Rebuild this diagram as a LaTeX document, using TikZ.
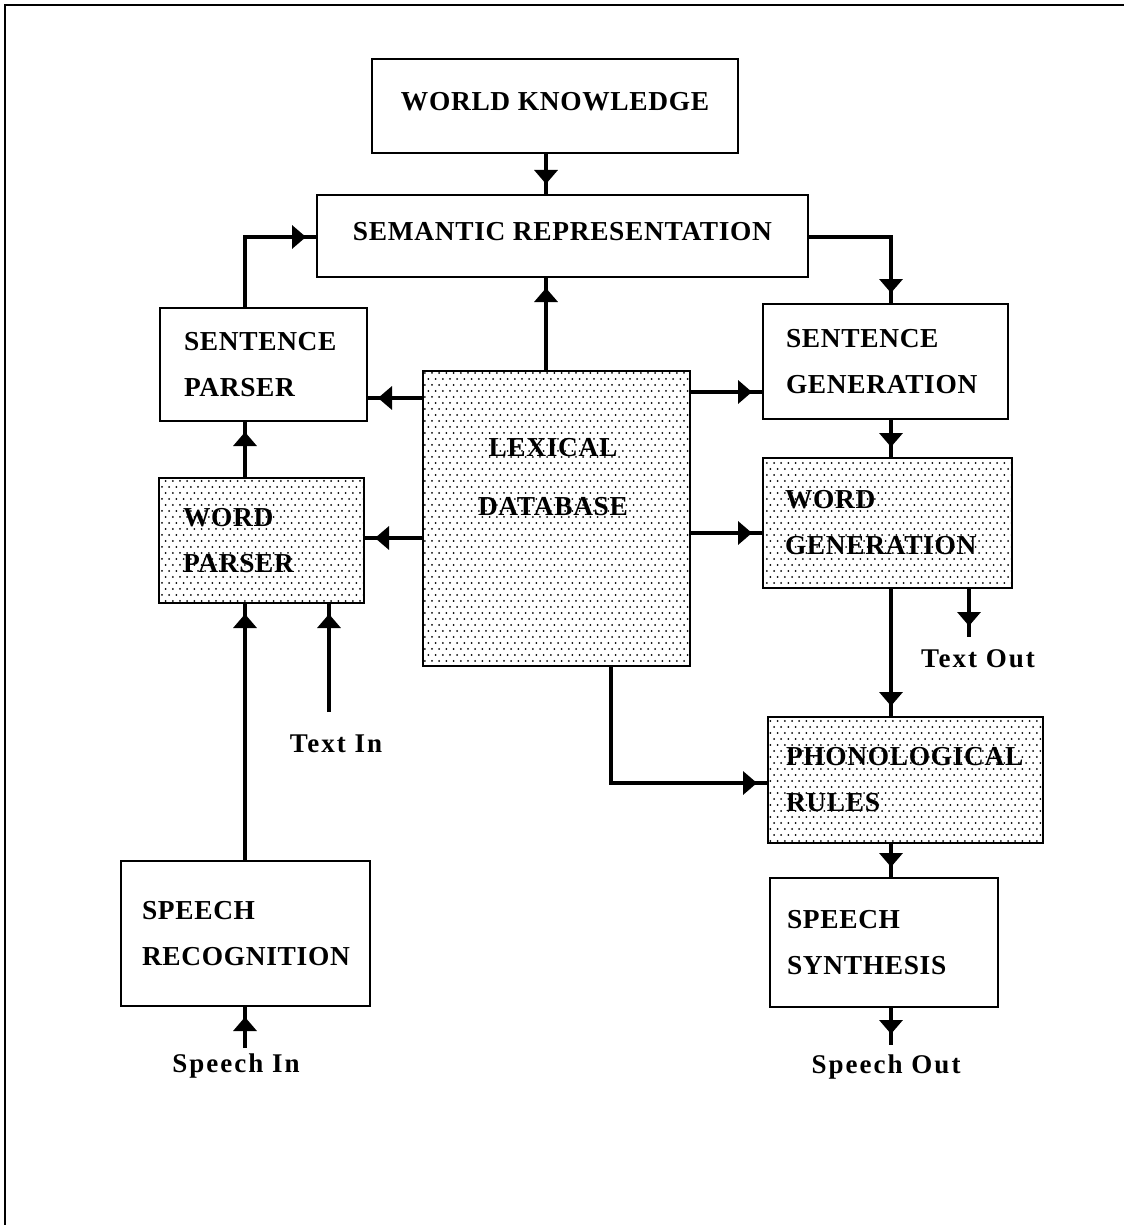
\documentclass[tikz,border=0pt]{standalone}
\usepackage{fontspec}
\setmainfont{Liberation Serif}
\newfontfamily\capsfont[LetterSpace=2.5]{Liberation Serif}
\newfontfamily\iofont[LetterSpace=7.5]{Liberation Serif}
\usetikzlibrary{arrows.meta,decorations.markings,patterns}

% staggered dot screen used for the shaded modules
\pgfdeclarepatternformonly{stipple}{\pgfqpoint{-0.7pt}{-0.7pt}}{\pgfqpoint{2.6pt}{3.7pt}}{\pgfqpoint{3.6pt}{6pt}}{%
  \pgfpathcircle{\pgfqpoint{0pt}{0pt}}{0.5pt}%
  \pgfpathcircle{\pgfqpoint{1.8pt}{3pt}}{0.5pt}%
  \pgfusepath{fill}}

\tikzset{
  blk/.style={draw, line width=1.2pt, rectangle, anchor=north west, outer sep=0pt,
    inner ysep=0pt, font=\capsfont\bfseries\fontsize{13.7pt}{23pt}\selectfont},
  ctr/.style={blk, inner xsep=0pt, align=center, text depth=5pt},
  lft/.style 2 args={blk, inner xsep=#1, text width=#2, align=left},
  shaded/.style={pattern=stipple, pattern color=black},
  flow/.style={line width=2pt, postaction={decorate},
    decoration={markings, mark=at position -5.5pt with {\arrow{Triangle[length=7pt,width=11.5pt]}}}},
  io/.style={font=\iofont\bfseries\fontsize{13.5pt}{16pt}\selectfont, anchor=base, inner sep=0pt},
}

\begin{document}
\begin{tikzpicture}[x=0.5pt, y=-0.5pt]
\useasboundingbox (0,0) rectangle (1124,1225);

% page frame
\draw[line width=1pt] (5,1225) -- (5,5) -- (1124,5);

% modules
\node[ctr, minimum width=183pt, minimum height=47pt] (wk) at (372,59) {WORLD KNOWLEDGE};
\node[ctr, minimum width=245.5pt, minimum height=41pt] (sr) at (317,195) {SEMANTIC REPRESENTATION};
\node[lft={12pt}{79.5pt}, minimum width=103.5pt, minimum height=56.5pt] (sp) at (160,308) {SENTENCE\\PARSER};
\node[lft={11.5pt}{99.5pt}, minimum width=122.5pt, minimum height=57.5pt] (sg) at (763,304) {SENTENCE\\GENERATION};
\node[blk, shaded, minimum width=133.5pt, minimum height=147.5pt] (ld) at (423,371) {};
\node[font=\capsfont\bfseries\fontsize{13.7pt}{29.5pt}\selectfont, align=center, inner sep=0pt] (ldt) at (553,477) {LEXICAL\\DATABASE};
\node[lft={12pt}{78.5pt}, shaded, minimum width=102.5pt, minimum height=62.5pt] (wp) at (159,478) {WORD\\PARSER};
\node[lft={11pt}{102.5pt}, shaded, minimum width=124.5pt, minimum height=65pt] (wg) at (763,458) {WORD\\GENERATION};
\node[lft={9pt}{119.5pt}, shaded, minimum width=137.5pt, minimum height=63pt] (pr) at (768,717) {PHONOLOGICAL\\RULES};
\node[lft={10.5pt}{103.5pt}, minimum width=124.5pt, minimum height=72.5pt] (srec) at (121,861) {SPEECH\\RECOGNITION};
\node[lft={8.5pt}{97pt}, minimum width=114pt, minimum height=64.5pt] (ss) at (770,878) {SPEECH\\SYNTHESIS};

% input / output labels
\node[io] (tinl) at (336,752) {Text In};
\node[io] (toutl) at (978,667) {Text Out};
\node[io] (sinl) at (236,1072) {Speech In};
\node[io] (soutl) at (886,1073) {Speech Out};

% connector columns and rows
\coordinate (lc) at (245,0);
\coordinate (mc) at (546,0);
\coordinate (rc) at (891,0);
\coordinate (dc) at (611,0);
\coordinate (tc) at (329,0);
\coordinate (oc) at (969,0);
\coordinate (r0) at (0,237);
\coordinate (r1) at (0,398);
\coordinate (r2) at (0,392);
\coordinate (r3) at (0,538);
\coordinate (r4) at (0,533);
\coordinate (r5) at (0,783);
\coordinate (tin) at (329,712);
\coordinate (sin) at (245,1048);
\coordinate (tout) at (969,637);
\coordinate (sout) at (891,1045);

% connectors
\draw[flow] (wk.south -| mc) -- (sr.north -| mc);
\draw[flow] (sp.north -| lc) |- (sr.west |- r0);
\draw[flow] (sr.east |- r0) -| (sg.north -| rc);
\draw[flow] (ld.north -| mc) -- (sr.south -| mc);
\draw[flow] (ld.west |- r1) -- (sp.east |- r1);
\draw[flow] (ld.east |- r2) -- (sg.west |- r2);
\draw[flow] (ld.west |- r3) -- (wp.east |- r3);
\draw[flow] (ld.east |- r4) -- (wg.west |- r4);
\draw[flow] (ld.south -| dc) |- (pr.west |- r5);
\draw[flow] (sg.south -| rc) -- (wg.north -| rc);
\draw[flow] (wg.south -| rc) -- (pr.north -| rc);
\draw[flow] (pr.south -| rc) -- (ss.north -| rc);
\draw[flow] (ss.south -| rc) -- (sout);
\draw[flow] (wg.south -| oc) -- (tout);
\draw[flow] (wp.north -| lc) -- (sp.south -| lc);
\draw[flow] (srec.north -| lc) -- (wp.south -| lc);
\draw[flow] (sin) -- (srec.south -| lc);
\draw[flow] (tin) -- (wp.south -| tc);
\end{tikzpicture}
\end{document}
